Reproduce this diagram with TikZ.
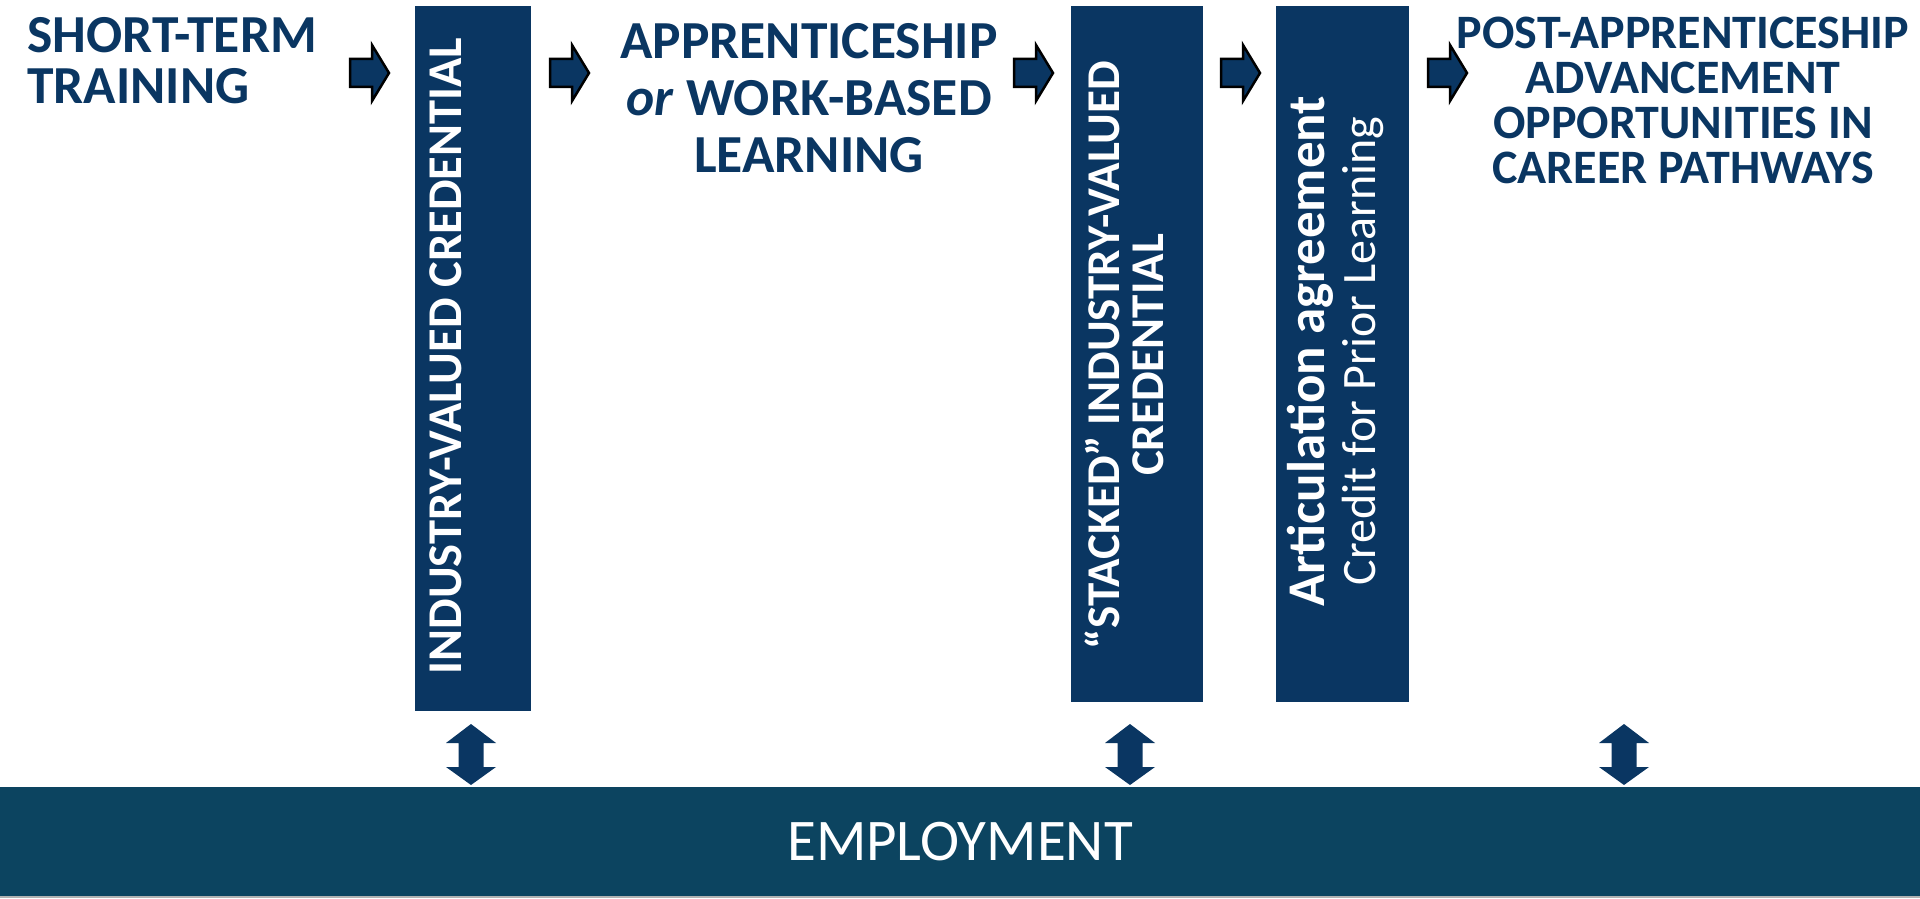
\documentclass[tikz,border=0pt]{standalone}
\usepackage{fontspec}
\setmainfont{Carlito}
\usepackage{xcolor}
\usetikzlibrary{calc}
\definecolor{navy}{HTML}{0A3662}
\definecolor{teal}{HTML}{0C4460}
\tikzset{
  credbox/.style={fill=navy, draw=none, inner sep=0pt},
  heading/.style={text=navy, font=\bfseries, inner sep=0pt},
  boxtext/.style={text=white, rotate=90, align=center, inner sep=0pt},
  blockarrow/.style={fill=navy, draw=black, line width=2.5pt, line join=miter},
  bothways/.style={fill=navy, draw=none}
}

\begin{document}
\begin{tikzpicture}[x=1pt, y=1pt]
    \useasboundingbox (0,0) rectangle (1920,898);

    % Nodes
    \fill[gray!60] (0,0) rectangle (1920,3);
    \node[fill=teal, minimum width=1920pt, minimum height=109pt, inner sep=0pt,
          text=white, font=\fontsize{59}{62}\selectfont] (job) at (960,56.5) {EMPLOYMENT};

    \node[credbox, minimum width=116pt, minimum height=705pt] (cred) at (473,539.5) {};
    \node[credbox, minimum width=132pt, minimum height=696pt] (stack) at (1137,544) {};
    \node[credbox, minimum width=133pt, minimum height=696pt] (artic) at (1342.5,544) {};

    \node[boxtext, font=\fontsize{48.5}{48}\bfseries\selectfont] (credtxt)
        at ($(cred.center)+(-27,2.5)$) {INDUSTRY-VALUED CREDENTIAL};
    \node[boxtext, font=\fontsize{47}{44}\bfseries\selectfont] (stacktxt)
        at ($(stack.center)+(-13,-1)$) {``STACKED'' INDUSTRY-VALUED\\CREDENTIAL};
    \node[boxtext, font=\fontsize{48}{51}\selectfont] (artictxt)
        at ($(artic.center)+(-7.5,3)$) {{\fontsize{53}{51}\bfseries\selectfont Articulation agreement}\\Credit for Prior Learning};

    \node[heading, anchor=north west, align=left, font=\fontsize{53.5}{51}\bfseries\selectfont] (short)
        at (27,881) {SHORT-TERM\\TRAINING};
    \node[heading, anchor=north, align=center, font=\fontsize{53.5}{57}\bfseries\selectfont] (appr)
        at (809,875) {APPRENTICESHIP\\\textit{or} WORK-BASED\\LEARNING};
    \node[heading, anchor=north, align=center, font=\fontsize{48}{45}\bfseries\selectfont] (post)
        at (1683,881) {POST-APPRENTICESHIP\\ADVANCEMENT\\OPPORTUNITIES IN\\CAREER PATHWAYS};

    % Arrows
    \foreach \ax in {350,550,1014,1221,1428}
        \draw[blockarrow] (\ax,811) -- ++(22,0) -- ++(0,-14) -- ++(17,28) -- ++(-17,28)
            -- ++(0,-14) -- ++(-22,0) -- cycle;
    \foreach \cx in {471,1130,1624}
        \fill[bothways] (\cx,174) -- ++(25,-19) -- ++(-12.5,0) -- ++(0,-24) -- ++(12.5,0)
            -- ++(-25,-18) -- ++(-25,18) -- ++(12.5,0) -- ++(0,24) -- ++(-12.5,0) -- cycle;
\end{tikzpicture}
\end{document}
